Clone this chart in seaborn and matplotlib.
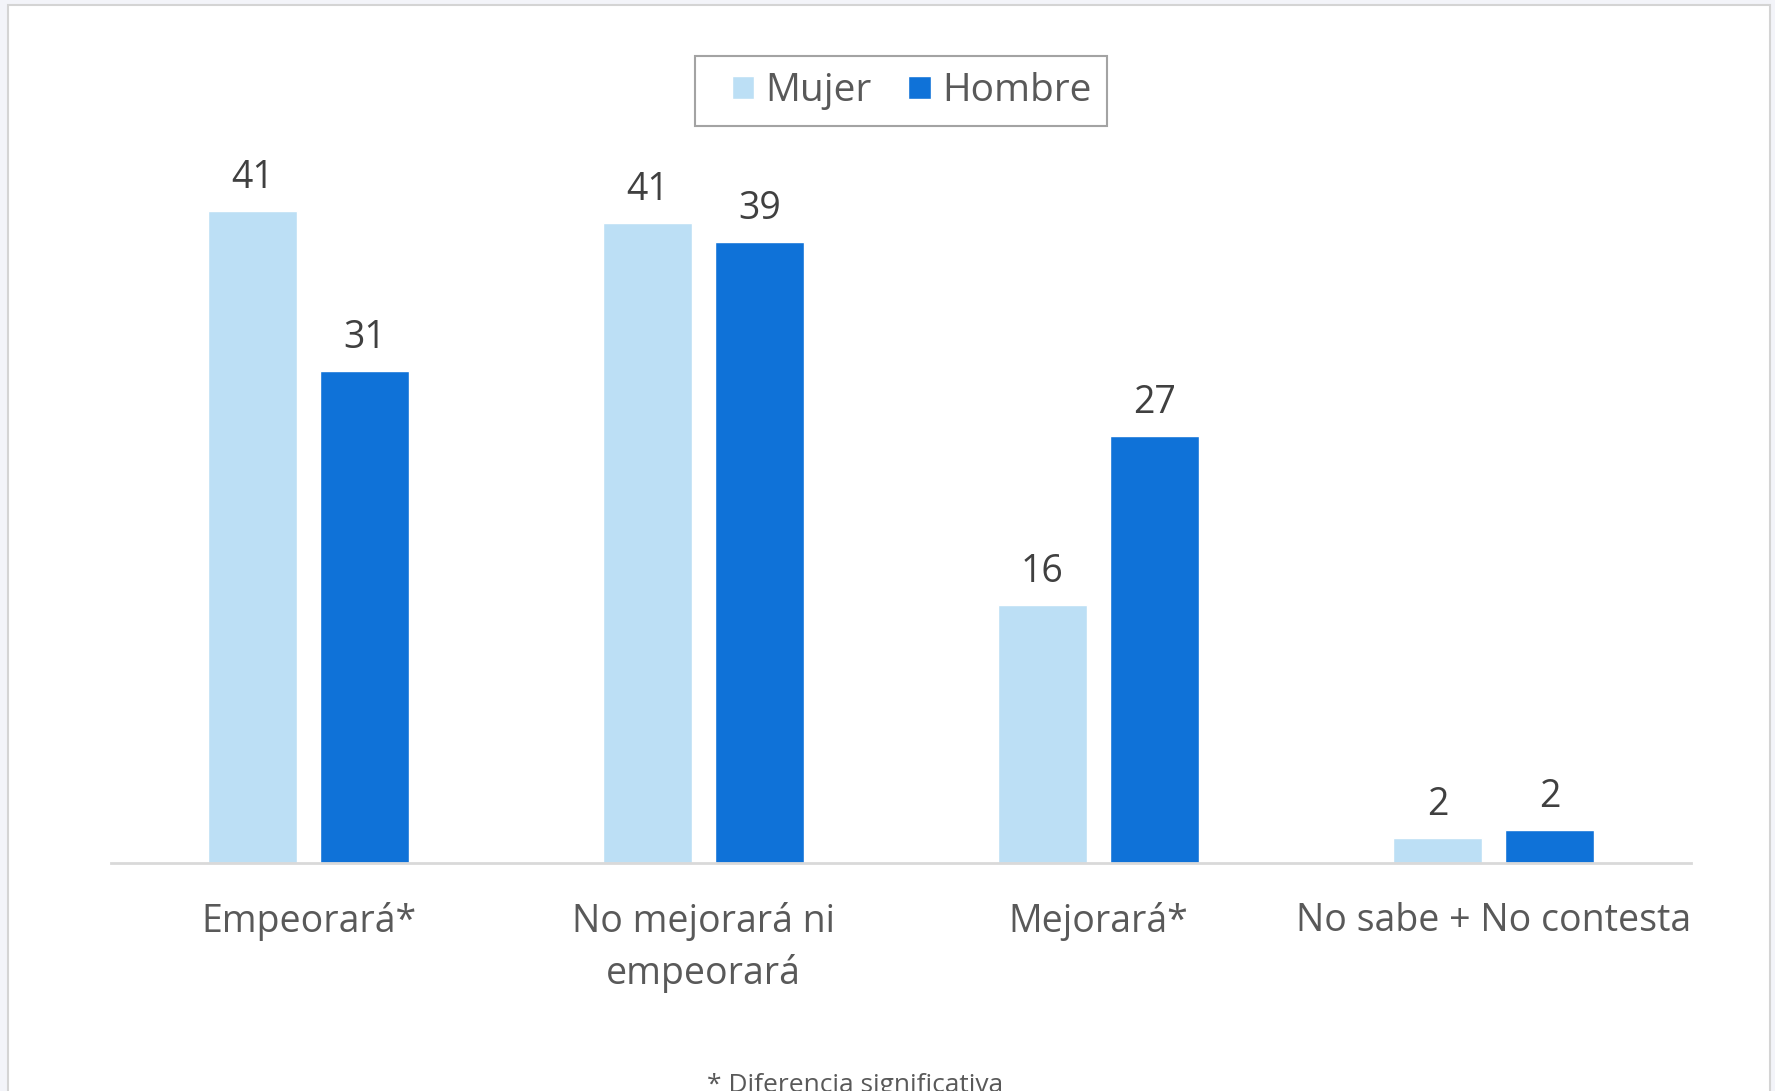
import pandas as pd
import matplotlib.pyplot as plt
import seaborn as sns
from matplotlib.patches import Rectangle
from matplotlib.legend_handler import HandlerPatch

# ------------------ Data ------------------
categorias = ["Empeorará*", "No mejorará ni\nempeorará", "Mejorará*", "No sabe + No contesta"]
mujer = [41.4, 40.6, 16.4, 1.6]
hombre = [31.2, 39.4, 27.1, 2.1]
etiquetas_mujer = ["41", "41", "16", "2"]
etiquetas_hombre = ["31", "39", "27", "2"]
series = ["Mujer", "Hombre"]
colores = ["#BCDFF5", "#0F72D8"]

df = pd.DataFrame({
    "categoria": categorias * 2,
    "valor": mujer + hombre,
    "sexo": [series[0]] * len(categorias) + [series[1]] * len(categorias),
})

# ------------------ Figure ------------------
sns.set_style("white")
plt.rcParams["font.family"] = ["Open Sans", "DejaVu Sans"]

fig = plt.figure(figsize=(17.75, 10.91), dpi=100)
fig.patch.set_facecolor("#F3F4F9")
# white card with thin grey border (behind everything)
fig.patches.append(Rectangle((8 / 1775, -0.01), (1770 - 8) / 1775, 1.01 - 5 / 1091,
                             transform=fig.transFigure, facecolor="white",
                             edgecolor="#D4D4D4", linewidth=1.5, zorder=-5))

ax = fig.add_axes([111 / 1775, 228 / 1091, (1691 - 111) / 1775, 0.65])
ax.set_facecolor("none")

sns.barplot(data=df, x="categoria", y="valor", hue="sexo", palette=colores,
            saturation=1, width=0.567, gap=0.205, ax=ax)

for cont, labs in zip(ax.containers, [etiquetas_mujer, etiquetas_hombre]):
    ax.bar_label(cont, labels=labs, padding=10, fontsize=27, color="#404040")

ax.set_xlim(-0.5, 3.5)
ax.set_ylim(0, 45)
ax.set_xlabel("")
ax.set_ylabel("")
ax.set_yticks([])
for s in ["top", "right", "left"]:
    ax.spines[s].set_visible(False)
ax.spines["bottom"].set_color("#D9D9D9")
ax.spines["bottom"].set_linewidth(2)
ax.tick_params(axis="x", length=0, pad=28, labelsize=27, labelcolor="#595959")
for t in ax.get_xticklabels():
    t.set_linespacing(1.45)


# ------------------ Legend ------------------
# small square sitting at the right end of the handle box
def cuadro(legend, orig_handle, xdescent, ydescent, width, height, fontsize):
    s = 0.58 * fontsize
    return Rectangle((width - s - xdescent, -ydescent + (height - s) / 2), s, s)


handles, labels = ax.get_legend_handles_labels()
ax.legend_.remove()
leg = fig.legend(handles, labels, loc="center", bbox_to_anchor=(901 / 1775, 1 - 91 / 1091),
                 ncol=2, fontsize=28, frameon=True, fancybox=False,
                 handlelength=1.12, handleheight=0.7, handletextpad=0.28,
                 columnspacing=0.41, borderpad=0.4, labelcolor="#595959",
                 handler_map={type(handles[0]): HandlerPatch(patch_func=cuadro)})
leg.get_frame().set_edgecolor("#8C8C8C")
leg.get_frame().set_linewidth(1.5)

fig.text(855 / 1775, -1 / 1091, "* Diferencia significativa", ha="center", va="baseline",
         fontsize=19, color="#595959")

fig.savefig("out.png", dpi=100, facecolor=fig.get_facecolor())
